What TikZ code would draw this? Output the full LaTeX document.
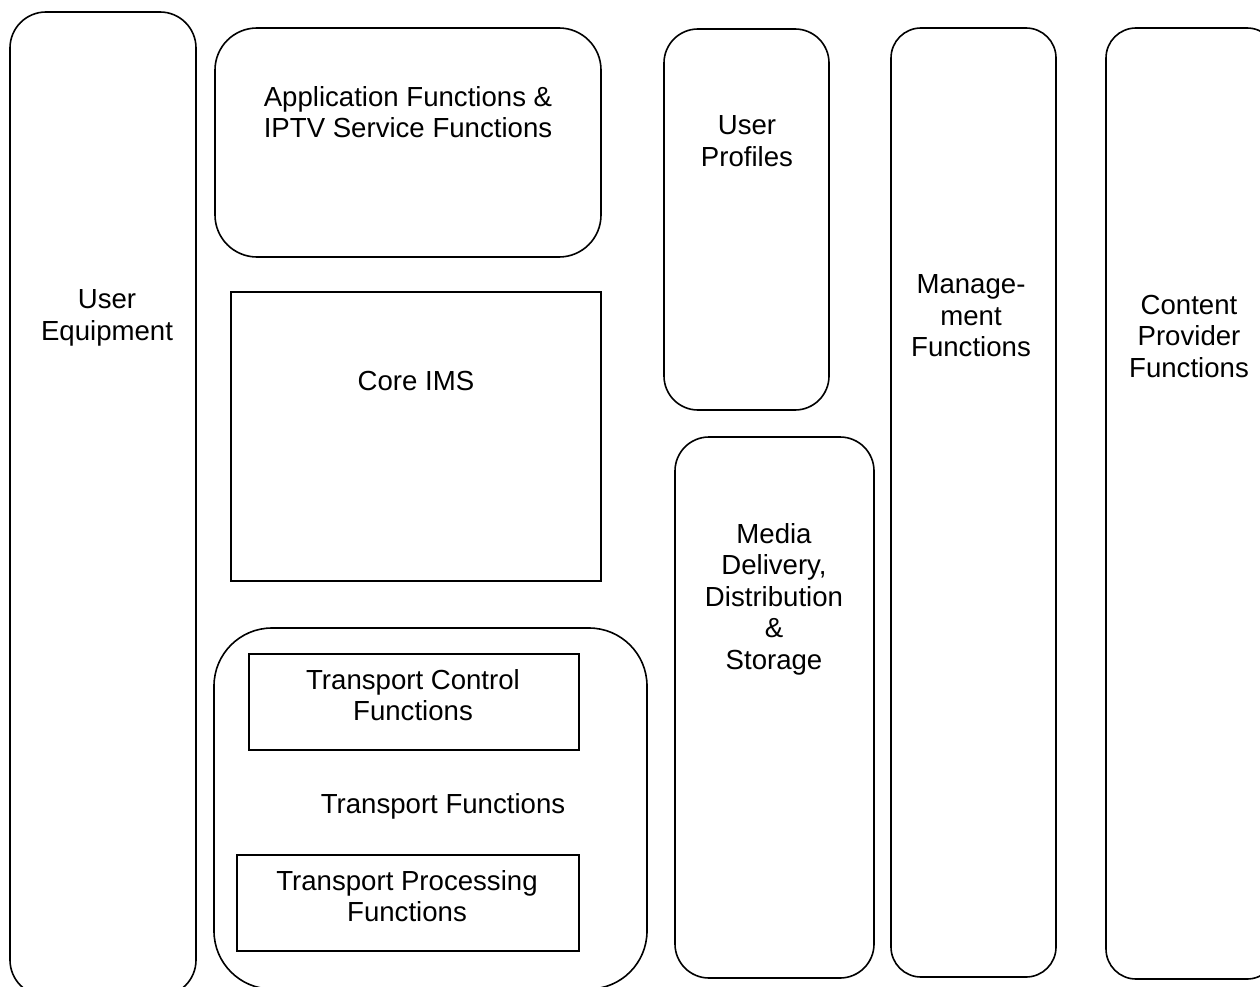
\documentclass[tikz,border=0pt]{standalone}
\usepackage{fontspec}
\setmainfont{Liberation Sans}
\begin{document}
\begin{tikzpicture}[x=1pt,y=-1pt,
  box/.style={draw=black,line width=1.6pt},
  lbl/.style={align=center,inner sep=0pt,font=\fontsize{27.6}{31.5}\selectfont}]
\useasboundingbox (0,0) rectangle (1260,987);
\clip (0,0) rectangle (1260,987);
\fill[white] (0,0) rectangle (1260,987);
% boxes
\draw[box,rounded corners=36pt] (10,12) rectangle (196,996);
\draw[box,rounded corners=42pt] (215,28) rectangle (601,257);
\draw[box] (231,292) rectangle (601,581);
\draw[box,rounded corners=58pt] (214,628) rectangle (647,989);
\draw[box] (249,654) rectangle (579,750);
\draw[box] (237,855) rectangle (579,951);
\draw[box,rounded corners=34pt] (664,29) rectangle (829,410);
\draw[box,rounded corners=34pt] (675,437) rectangle (874,978);
\draw[box,rounded corners=30pt] (891,28) rectangle (1056,977);
\draw[box,rounded corners=30pt] (1106,28) rectangle (1277,979);
% labels
\node[lbl] (ue) at (107,318) {User\\Equipment};
\node[lbl] (app) at (408,112) {Application Functions \&\\IPTV Service Functions};
\node[lbl] (ims) at (416,381) {Core IMS};
\node[lbl] (tcf) at (413,695) {Transport Control\\Functions};
\node[lbl] (tf) at (443,806) {Transport Functions};
\node[lbl] (tpf) at (407,896) {Transport Processing\\Functions};
\node[lbl] (up) at (747,141) {User\\Profiles};
\node[lbl] (md) at (774,599) {Media\\Delivery,\\Distribution\\\&\\Storage};
\node[lbl] (mg) at (971,316) {Manage-\\ment\\Functions};
\node[lbl] (cp) at (1189,336) {Content\\Provider\\Functions};
\end{tikzpicture}
\end{document}
